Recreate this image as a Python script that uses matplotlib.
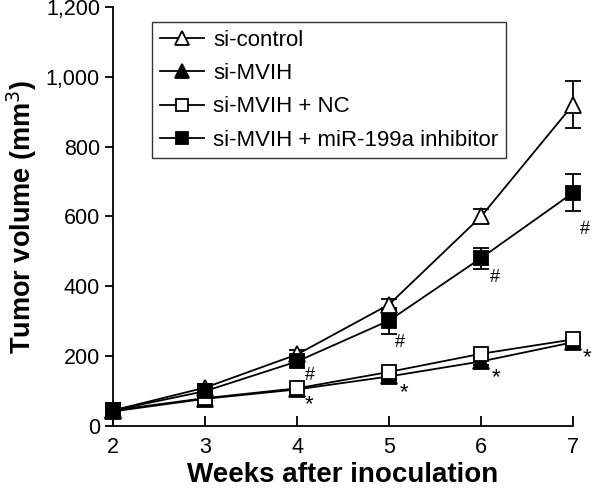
import matplotlib
matplotlib.use("Agg")
import matplotlib.pyplot as plt

plt.rcParams["font.family"] = ["Liberation Sans", "DejaVu Sans"]

weeks = [2, 3, 4, 5, 6, 7]
control = [45, 110, 205, 348, 600, 920]
control_err = [0, 10, 12, 15, 20, 68]
mvih = [42, 78, 105, 142, 185, 240]
mvih_err = [0, 15, 8, 10, 10, 10]
mvih_nc = [45, 80, 108, 155, 207, 248]
mvih_nc_err = [0, 8, 8, 8, 8, 8]
inhib = [45, 100, 185, 302, 481, 668]
inhib_err = [0, 10, 15, 37, 30, 53]

hash_x = [4.14, 5.12, 6.15, 7.13]
hash_y = [146, 240, 424, 562]
star_x = [4.13, 5.16, 6.16, 7.15]
star_y = [60, 97, 138, 195]

fig = plt.figure(figsize=(5.92, 4.92), dpi=100)
ax = fig.add_axes([0.191, 0.134, 0.777, 0.852])

series = [
    (control, control_err, "^", 12, "white", "si-control"),
    (mvih, mvih_err, "^", 12, "black", "si-MVIH"),
    (mvih_nc, mvih_nc_err, "s", 10.5, "white", "si-MVIH + NC"),
    (inhib, inhib_err, "s", 10.5, "black", "si-MVIH + miR-199a inhibitor"),
]
for vals, err, mk, size, fc, lab in series:
    ax.errorbar(weeks, vals, yerr=err, color="black", lw=1.3, marker=mk,
                ms=size, mfc=fc, mec="black", mew=1.3, capsize=6, capthick=1.3,
                elinewidth=1.3, label=lab, clip_on=False, zorder=3)

for x, y in zip(hash_x, hash_y):
    ax.text(x, y, "#", fontsize=13, ha="center", va="center")
for x, y in zip(star_x, star_y):
    ax.text(x, y, "*", fontsize=16, ha="center", va="center")

ax.set_xlim(2, 7)
ax.set_ylim(0, 1200)
ax.set_xticks(weeks)
ax.set_yticks(range(0, 1201, 200))
ax.set_yticklabels([f"{v:,}" for v in range(0, 1201, 200)])
ax.tick_params(axis="x", direction="in", length=7, width=1.3, labelsize=15.5, pad=8)
ax.tick_params(axis="y", direction="out", length=6, width=1.3, labelsize=15.5)
for s in ("top", "right"):
    ax.spines[s].set_visible(False)
for s in ("left", "bottom"):
    ax.spines[s].set_linewidth(1.3)

ax.set_xlabel("Weeks after inoculation", fontsize=20, fontweight="bold", labelpad=3)
ax.set_ylabel("Tumor volume (mm$^3$)", fontsize=19.5, fontweight="bold", labelpad=5)

handles, labels = ax.get_legend_handles_labels()
handles = [h[0] for h in handles]
leg = ax.legend(handles, labels, loc="upper left", bbox_to_anchor=(0.06, 0.99),
                fontsize=16, frameon=True, fancybox=False, edgecolor="black",
                handlelength=2.0, borderpad=0.35, labelspacing=0.55, handletextpad=0.4,
                markerscale=0.85)
leg.get_frame().set_linewidth(1.0)

fig.savefig("out.png", dpi=100)
